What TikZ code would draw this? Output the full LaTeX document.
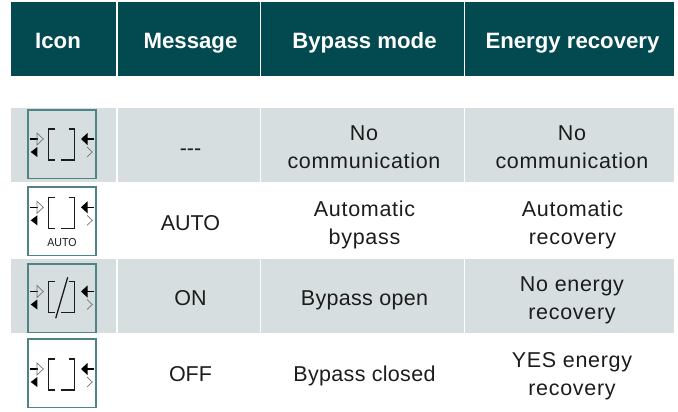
\documentclass[tikz,border=0pt]{standalone}
\usepackage{fontspec}
\setmainfont{Liberation Sans}
\newfontfamily\spacedfont[LetterSpace=3.2]{Liberation Sans}
\newfontfamily\lightspaced[LetterSpace=1.5]{Liberation Sans}
\definecolor{headteal}{HTML}{034A50}
\definecolor{rowgrey}{HTML}{D6DEDF}
\definecolor{iconframe}{HTML}{4F8487}
\definecolor{ink}{HTML}{1C1C1C}
\tikzset{
  headcell/.style={fill=headteal,draw=none},
  rowcell/.style={fill=rowgrey,draw=none},
  headtext/.style={text=white,font=\fontsize{22.2}{26}\selectfont\bfseries,anchor=base,inner sep=0pt},
  celltext/.style={text=ink,font=\spacedfont\fontsize{21.5}{28}\selectfont,align=center,inner sep=0pt},
  onetext/.style={text=ink,font=\fontsize{21.5}{28}\selectfont,anchor=base,inner sep=0pt},
  spacedone/.style={onetext,font=\lightspaced\fontsize{21.5}{28}\selectfont},
  frame/.style={draw=iconframe,line width=1.1pt},
  brk/.style={draw=ink,line width=1.5pt},
  arr/.style={draw=black,line width=1.6pt},
  hollow/.style={draw=black!55,line width=.7pt},
  solidtip/.style={fill=black,draw=none},
}
% #1 frame top, #2 bracket top
\newcommand{\iconglyph}[2]{%
  \draw[frame] (28,#1) rectangle (96,#1+68.5);
  \begin{scope}[shift={(28,#2)}]
    \draw[brk] (27,0) -- (20.7,0) -- (20.7,31) -- (26.5,31);
    \draw[brk] (40.5,0) -- (46.7,0) -- (46.7,31) -- (33,31);
    \draw[arr] (2,10) -- (9.5,10);
    \draw[hollow] (9,4) -- (15.3,10) -- (9,16) -- cycle;
    \fill[solidtip] (9.3,18) -- (2.7,23) -- (9.3,28) -- cycle;
    \draw[arr] (57,10) -- (66,10);
    \fill[solidtip] (59.5,4) -- (53,10) -- (59.5,16) -- cycle;
    \draw[hollow] (59,18) -- (64.3,23) -- (59,28);
  \end{scope}}
\begin{document}
\begin{tikzpicture}[x=1pt,y=-1pt]
\useasboundingbox (0,0) rectangle (678,412);
% header
\fill[headcell] (11,2) rectangle (116,76);
\fill[headcell] (117.5,2) rectangle (259.5,76);
\fill[headcell] (261,2) rectangle (463.5,76);
\fill[headcell] (465,2) rectangle (674,76);
% grey rows
\foreach \ya/\yb in {108/181.5,259/333}{
  \fill[rowcell] (11,\ya) rectangle (116,\yb);
  \fill[rowcell] (117.5,\ya) rectangle (259.5,\yb);
  \fill[rowcell] (261,\ya) rectangle (463.5,\yb);
  \fill[rowcell] (465,\ya) rectangle (674,\yb);
}
% header text
\node[headtext] (h1) at (58,49) {Icon};
\node[headtext] (h2) at (190.5,49) {Message};
\node[headtext] (h3) at (364.5,49) {Bypass mode};
\node[headtext] (h4) at (572.5,49) {Energy recovery};
% rows
\node[onetext] (m1) at (190.5,155) {-{}-{}-};
\node[celltext] (b1) at (364,147) {No\\communication};
\node[celltext] (e1) at (572,147) {No\\communication};
\node[onetext] (m2) at (190.5,230) {AUTO};
\node[celltext] (b2) at (364.5,225) {Automatic\\bypass};
\node[celltext] (e2) at (572.5,225) {Automatic\\recovery};
\node[onetext] (m3) at (190.5,305) {ON};
\node[spacedone] (b3) at (364.5,305) {Bypass open};
\node[celltext] (e3) at (572,300) {No energy\\recovery};
\node[onetext] (m4) at (190.5,381) {OFF};
\node[spacedone] (b4) at (364.5,381) {Bypass closed};
\node[celltext] (e4) at (572,376) {YES energy\\recovery};
% icons
\iconglyph{110}{129}
\iconglyph{187}{197.3}
\node[inner sep=0pt,text=ink,font=\fontsize{11.5}{12}\selectfont,xscale=.92] (autoicon) at (62,243) {AUTO};
\iconglyph{264}{281.5}
\draw[ink,line width=1.3pt] (67.7,277.3) -- (55.7,318.3);
\iconglyph{339}{359}
\end{tikzpicture}
\end{document}
